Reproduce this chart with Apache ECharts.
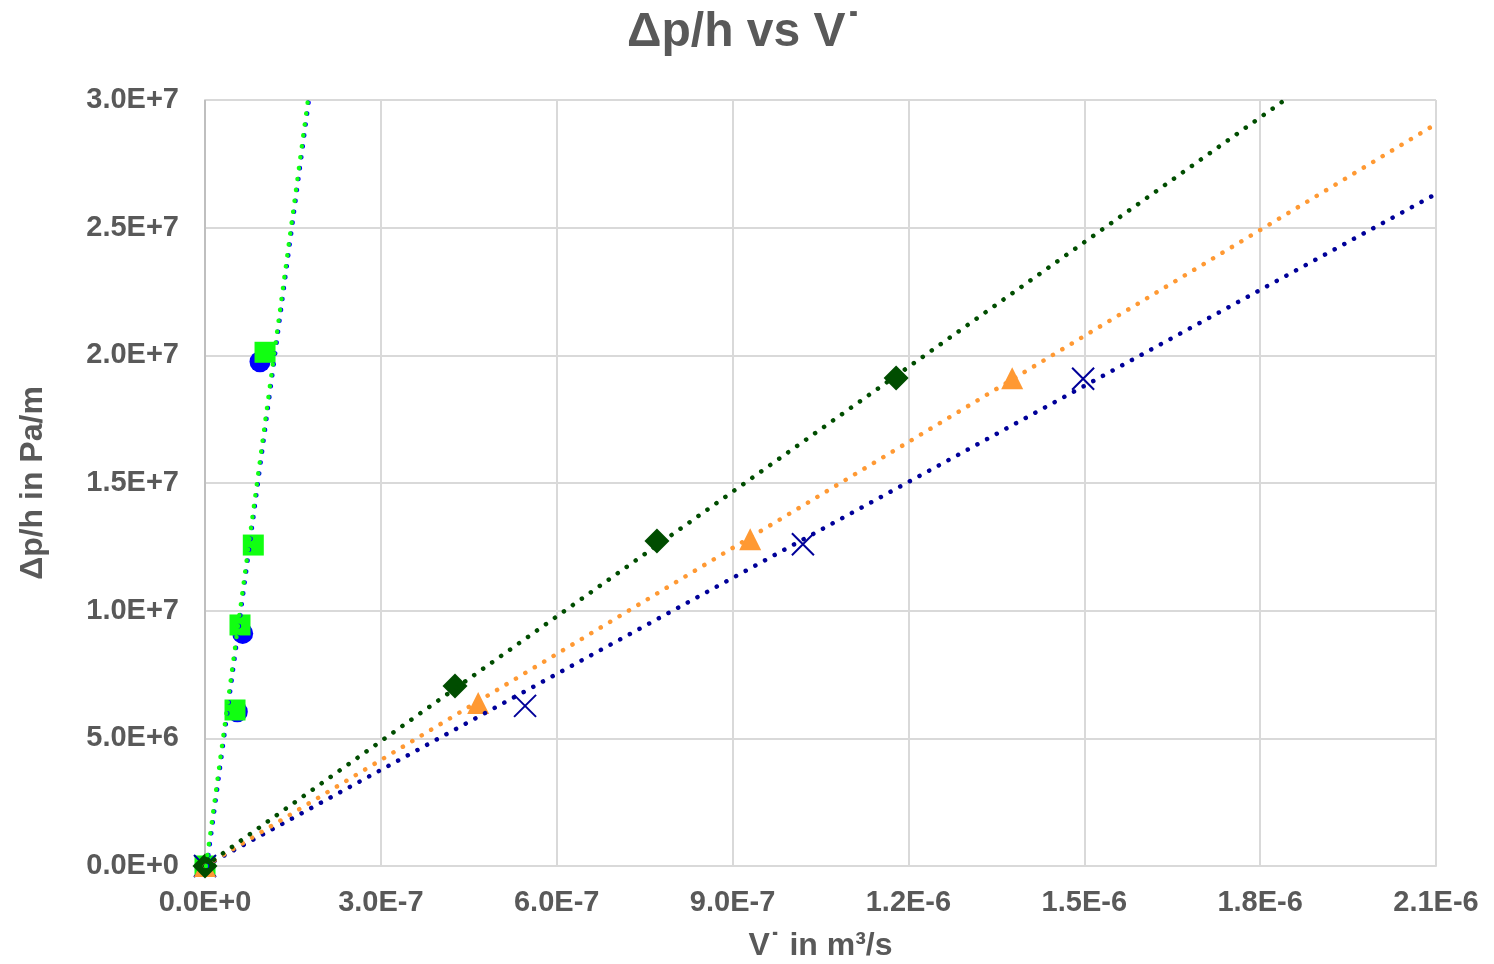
<!DOCTYPE html>
<html><head><meta charset="utf-8">
<script src="https://cdn.jsdelivr.net/npm/echarts@6/dist/echarts.min.js"></script>
<style>html,body{margin:0;padding:0;background:#fff}#c{width:1494px;height:964px}</style>
</head><body><div id="c"></div>
<script>
// Measured data (x in m^3/s, y in Pa/m)
const circleX = [0, 0.551e-7, 0.643e-7, 0.938e-7];
const circleY = [0, 6.04e6, 9.11e6, 19.75e6];
const squareX = [0, 0.512e-7, 0.597e-7, 0.824e-7, 1.024e-7];
const squareY = [0, 6.11e6, 9.44e6, 12.57e6, 20.12e6];
const diamondX = [0, 4.265e-7, 7.71e-7, 11.79e-7];
const diamondY = [0, 7.05e6, 12.73e6, 19.11e6];
const triangleX = [0, 4.66e-7, 9.30e-7, 13.77e-7];
const triangleY = [0, 6.38e6, 12.8e6, 19.1e6];
const crossX = [0, 5.46e-7, 10.2e-7, 14.98e-7];
const crossY = [0, 6.27e6, 12.6e6, 19.08e6];
// Trendline endpoints
const trendBlueX = [3.4e-9, 1.774e-7];
const trendBlueY = [0, 3.0e7];
const trendGreenX = [1.7e-9, 1.757e-7];
const trendGreenY = [0, 3.0e7];
const trendDarkGreenX = [0, 18.42e-7];
const trendDarkGreenY = [0, 3.0e7];
const trendOrangeX = [0, 21e-7];
const trendOrangeY = [0, 29.06e6];
const trendNavyX = [0, 21e-7];
const trendNavyY = [0, 26.32e6];

const zip = (xs, ys) => xs.map((x, i) => [x, ys[i]]);
const fmt = v => v.toExponential(1).toUpperCase();
const txt = '#595959';
const font = '"Liberation Sans", Arial, sans-serif';

const dotted = (color) => ({ color, width: 4.5, type: [0.1, 10.9], cap: 'round' });
const trend = (name, xs, ys, color, z) => ({
  name, type: 'line', data: zip(xs, ys), showSymbol: false, symbol: 'none',
  lineStyle: dotted(color), z, silent: true, animation: false, clip: true
});
const marks = (name, xs, ys, symbol, size, color, z, extra) => Object.assign({
  name, type: 'scatter', data: zip(xs, ys), symbol, symbolSize: size,
  itemStyle: { color, opacity: 1 }, z, animation: false
}, extra || {});

const chart = echarts.init(document.getElementById('c'));
chart.setOption({
  backgroundColor: '#fff',
  animation: false,
  title: {
    text: '\u0394p/h vs V\u02D9', left: 622, top: 4,
    textStyle: { color: txt, fontSize: 48, fontWeight: 'bold', fontFamily: font }
  },
  grid: { left: 205, right: 58, top: 100, bottom: 98, containLabel: false, outerBoundsMode: 'none' },
  xAxis: {
    type: 'value', min: 0, max: 2.1e-6, interval: 3e-7,
    name: 'V\u02D9 in m\u00B3/s', nameLocation: 'middle', nameGap: 64,
    nameTextStyle: { color: txt, fontSize: 32, fontWeight: 'bold', fontFamily: font },
    axisLine: { show: true, lineStyle: { color: '#d9d9d9', width: 2 } },
    axisTick: { show: false },
    axisLabel: { formatter: fmt, color: txt, fontSize: 29, fontWeight: 'bold', fontFamily: font, margin: 22 },
    splitLine: { show: true, lineStyle: { color: '#d9d9d9', width: 2 } }
  },
  yAxis: {
    type: 'value', min: 0, max: 3e7, interval: 5e6,
    name: '\u0394p/h in Pa/m', nameLocation: 'middle', nameGap: 156, nameRotate: 90,
    nameTextStyle: { color: txt, fontSize: 32, fontWeight: 'bold', fontFamily: font },
    axisLine: { show: true, lineStyle: { color: '#d9d9d9', width: 2 } },
    axisTick: { show: false },
    axisLabel: { formatter: fmt, color: txt, fontSize: 29, fontWeight: 'bold', fontFamily: font, margin: 26 },
    splitLine: { show: true, lineStyle: { color: '#d9d9d9', width: 2 } }
  },
  series: [
    marks('circles', circleX, circleY, 'circle', 21, '#0000ff', 3),
    marks('squares', squareX, squareY, 'rect', 21, '#11ff11', 4),
    marks('cross', crossX, crossY, 'path://M0,0 L10,10 M10,0 L0,10', 22, 'rgba(0,0,0,0)', 5,
      { itemStyle: { color: 'rgba(0,0,0,0)', borderColor: '#000099', borderWidth: 2, opacity: 1 } }),
    marks('triangles', triangleX, triangleY, 'triangle', 22, '#ff9933', 6),
    marks('diamonds', diamondX, diamondY, 'diamond', 25, '#004d00', 7),
    Object.assign(trend('trendNavy', trendNavyX, trendNavyY, '#000099', 10), {
      markLine: {
        symbol: 'none', silent: true, animation: false, label: { show: false },
        lineStyle: { color: '#bfbfbf', width: 2, type: 'solid' },
        data: [{ xAxis: 0.6e-8 }]
      }
    }),
    trend('trendOrange', trendOrangeX, trendOrangeY, '#ff9933', 11),
    trend('trendDarkGreen', trendDarkGreenX, trendDarkGreenY, '#004d00', 12),
    trend('trendBlue', trendBlueX, trendBlueY, '#0000ff', 13),
    trend('trendGreen', trendGreenX, trendGreenY, '#11ff11', 14)
  ]
});
</script></body></html>
